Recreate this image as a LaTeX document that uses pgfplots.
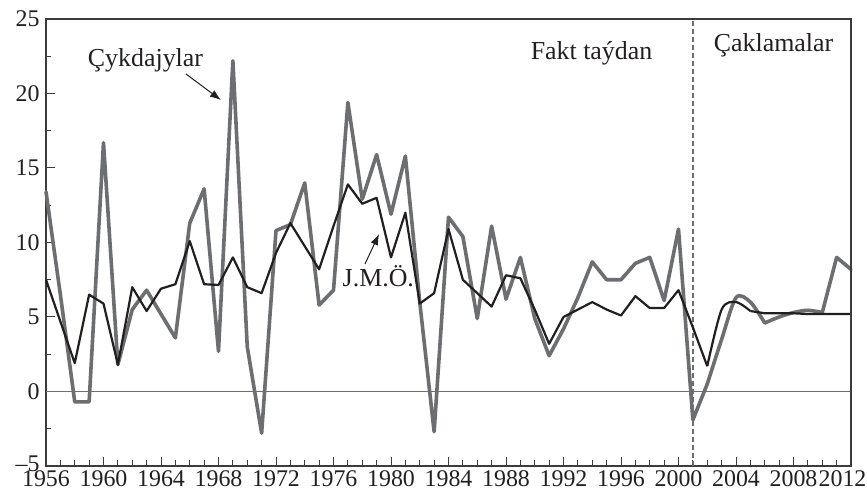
\documentclass[border=0pt]{standalone}
\usepackage{fontspec}
\setmainfont{Liberation Serif}
\usepackage{pgfplots}
\pgfplotsset{compat=1.18}
\usetikzlibrary{arrows.meta}
\definecolor{sergray}{RGB}{109,110,113}
\definecolor{serblack}{RGB}{35,31,32}
\definecolor{axgray}{RGB}{60,60,62}

\pgfplotstableread{
year val
1956 13.4
1957 6.5
1958 -0.7
1959 -0.7
1960 16.7
1961 1.8
1962 5.5
1963 6.8
1964 5.2
1965 3.6
1966 11.3
1967 13.6
1968 2.7
1969 22.2
1970 3.0
1971 -2.8
1972 10.8
1973 11.2
1974 14.0
1975 5.8
1976 6.8
1977 19.4
1978 12.9
1979 15.9
1980 11.9
1981 15.8
1982 6.0
1983 -2.7
1984 11.7
1985 10.4
1986 4.9
1987 11.1
1988 6.2
1989 9.0
1990 4.9
1991 2.4
1992 4.2
1993 6.3
1994 8.7
1995 7.5
1996 7.5
1997 8.6
1998 9.0
1999 6.1
2000 10.9
2001 -1.9
2002 0.5
}\grayA
\pgfplotstableread{
year val
2002 0.5
2003 3.5
2004 6.3
2005 6.0
2006 4.6
}\grayB
\pgfplotstableread{
year val
2006 4.6
2007 5.0
2008 5.3
2009 5.45
2010 5.3
}\grayC
\pgfplotstableread{
year val
2010 5.3
2011 9.0
2012 8.2
}\grayD

\pgfplotstableread{
year val
1956 7.5
1957 4.7
1958 1.9
1959 6.5
1960 5.9
1961 1.8
1962 7.0
1963 5.4
1964 6.9
1965 7.2
1966 10.1
1967 7.2
1968 7.15
1969 9.0
1970 7.0
1971 6.6
1972 9.3
1973 11.3
1974 9.75
1975 8.2
1976 11.1
1977 13.9
1978 12.6
1979 13.0
1980 9.0
1981 12.0
1982 5.9
1983 6.6
1984 10.9
1985 7.5
1986 6.6
1987 5.7
1988 7.8
1989 7.6
1990 5.5
1991 3.2
1992 5.0
1993 5.5
1994 6.0
1995 5.5
1996 5.1
1997 6.4
1998 5.6
1999 5.6
2000 6.8
2001 4.3
2002 1.7
}\blackA
\pgfplotstableread{
year val
2002 1.7
2003 5.5
2004 6.0
2005 5.4
}\blackB
\pgfplotstableread{
year val
2005 5.4
2006 5.25
2007 5.25
2008 5.25
2009 5.2
2010 5.2
2011 5.2
2012 5.2
}\blackC

\begin{document}
\begin{tikzpicture}
\begin{axis}[
  name=ax, at={(0,0)}, anchor=south west,
  width=805bp, height=447bp, scale only axis,
  xmin=1956, xmax=2012, ymin=-5, ymax=25,
  xtick={1956,1960,...,2012},
  xticklabels={1956,1960,1964,1968,1972,1976,1980,1984,1988,1992,1996,2000,2004,2008,\hspace*{-17bp}2012},
  minor x tick num=3,
  ytick={-5,0,...,25},
  yticklabels={\raisebox{5bp}{\textendash5},0,5,10,15,20,25},
  minor y tick num=1,
  tick pos=left, tick align=inside,
  major tick length=9bp, minor tick length=5.5bp,
  axis line style={draw=axgray, line width=1.4bp},
  every tick/.style={draw=axgray, line width=1bp},
  tick label style={font=\fontsize{24}{28}\selectfont, text=serblack},
  yticklabel style={xshift=-3bp},
  xticklabel style={yshift=-1bp},
  /pgf/number format/assume math mode=true,
  clip=false,
]
\addplot[draw=sergray, line width=1.5bp] coordinates {(1956,0) (2012,0)};
\draw[draw=sergray, line width=1.3bp, dash pattern=on 4.5bp off 3.5bp] (axis cs:2001,-5) -- (axis cs:2001,25);

\addplot[draw=sergray, line width=3.6bp, line join=round, line cap=round] table[x=year,y=val] {\grayA};
\addplot[draw=sergray, line width=3.6bp, line join=round, line cap=round, smooth, tension=0.5] table[x=year,y=val] {\grayB};
\addplot[draw=sergray, line width=3.6bp, line join=round, line cap=round, smooth, tension=0.5] table[x=year,y=val] {\grayC};
\addplot[draw=sergray, line width=3.6bp, line join=round, line cap=round] table[x=year,y=val] {\grayD};

\addplot[draw=serblack, line width=2.2bp, line join=round] table[x=year,y=val] {\blackA};
\addplot[draw=serblack, line width=2.2bp, line join=round, smooth, tension=0.5] table[x=year,y=val] {\blackB};
\addplot[draw=serblack, line width=2.2bp, line join=round] table[x=year,y=val] {\blackC};

\draw[draw=axgray, line width=1.4bp] (rel axis cs:0,1) -- (rel axis cs:1,1) -- (rel axis cs:1,0);

\node[anchor=base, font=\fontsize{26}{30}\selectfont, text=serblack] at (axis cs:1962.92,21.78) {Çykdajylar};
\draw[serblack, line width=1bp, -{Latex[length=11bp,width=8bp]}] (axis cs:1965.74,21.31) -- (axis cs:1968.17,19.56);
\node[anchor=base, font=\fontsize{26}{30}\selectfont, text=serblack] at (axis cs:1979.12,7.05) {J.M.Ö.};
\draw[serblack, line width=1bp, -{Latex[length=11bp,width=8bp]}] (axis cs:1978.19,8.56) -- (axis cs:1979.17,10.57);
\node[anchor=base, font=\fontsize{26}{30}\selectfont, text=serblack] at (axis cs:1993.95,22.25) {Fakt taýdan};
\node[anchor=base, font=\fontsize{26}{30}\selectfont, text=serblack] at (axis cs:2006.61,22.8) {Çaklamalar};
\end{axis}
\pgfresetboundingbox
\path[use as bounding box] (-46bp,-25bp) rectangle (821bp,466bp);
\end{tikzpicture}
\end{document}
